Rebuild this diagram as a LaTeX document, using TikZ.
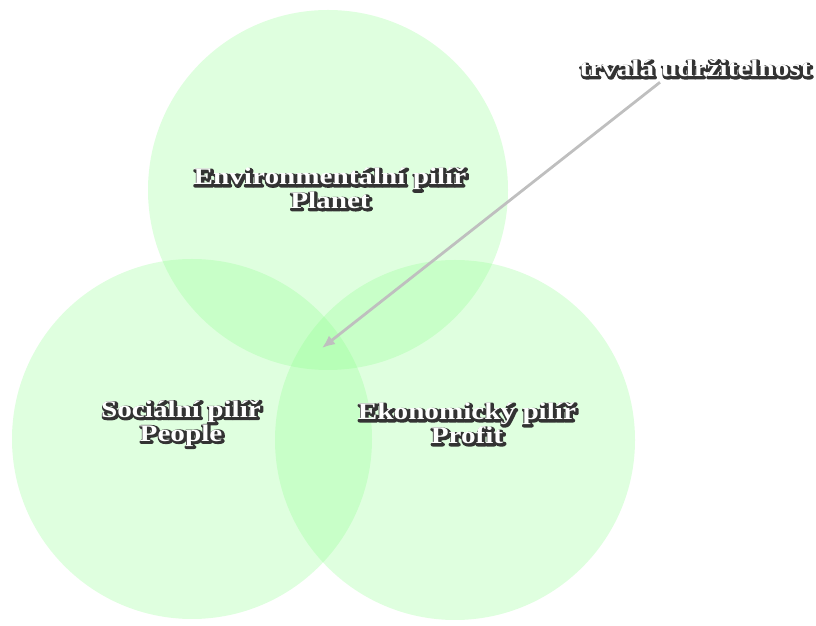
\documentclass[tikz,border=0pt]{standalone}
\usepackage{fontspec}
\setmainfont{Liberation Serif}
\usetikzlibrary{arrows.meta}
\colorlet{mygreen}{green!45!white}
\colorlet{myhalo}{black!80}
\tikzset{
  pillar/.style={mygreen,fill opacity=0.28,draw=none},
  label text/.style={font=\fontsize{24}{22.5}\selectfont\bfseries,align=center,inner sep=0,
                     white,xscale=1.22,transform shape},
  goal/.style={-{Latex[length=13,width=11]},black!25,line width=2.8},
}
% halo: thick dark outline copy behind the white text
\newcommand\halo[1]{\leavevmode
  \rlap{\kern1bp\raisebox{-1bp}{\special{pdf:literal direct q 2 Tr 3.4 w 1 j 0.15 0.15 0.15 RG 0.15 0.15 0.15 rg}%
    \color{myhalo}#1\special{pdf:literal direct Q}}}%
  #1}

\begin{document}
\begin{tikzpicture}[x=1bp,y=1bp]
  \useasboundingbox (0,0) rectangle (816,626);

  % CIRCLES
  \coordinate (P) at (328,436); % planet
  \coordinate (S) at (192,187); % people
  \coordinate (E) at (455,186); % profit
  \fill[pillar] (P) circle[radius=180bp];
  \fill[pillar] (S) circle[radius=180bp];
  \fill[pillar] (E) circle[radius=180bp];

  % LABELS
  \node[label text] (planet) at (330,437) {\halo{Environmentální pilíř}\\\halo{Planet}};
  \node[label text] (people) at (181,202) {\halo{Sociální pilíř}\\\halo{People}};
  \node[label text] (profit) at (467,202) {\halo{Ekonomický pilíř}\\\halo{Profit}};
  \node[label text] (goal) at (695,557) {\halo{trvalá udržitelnost}};

  % ARROW
  \coordinate (core) at (322,278);
  \draw[goal] (goal.south) ++(-35,-4) -- (core);
\end{tikzpicture}
\end{document}
